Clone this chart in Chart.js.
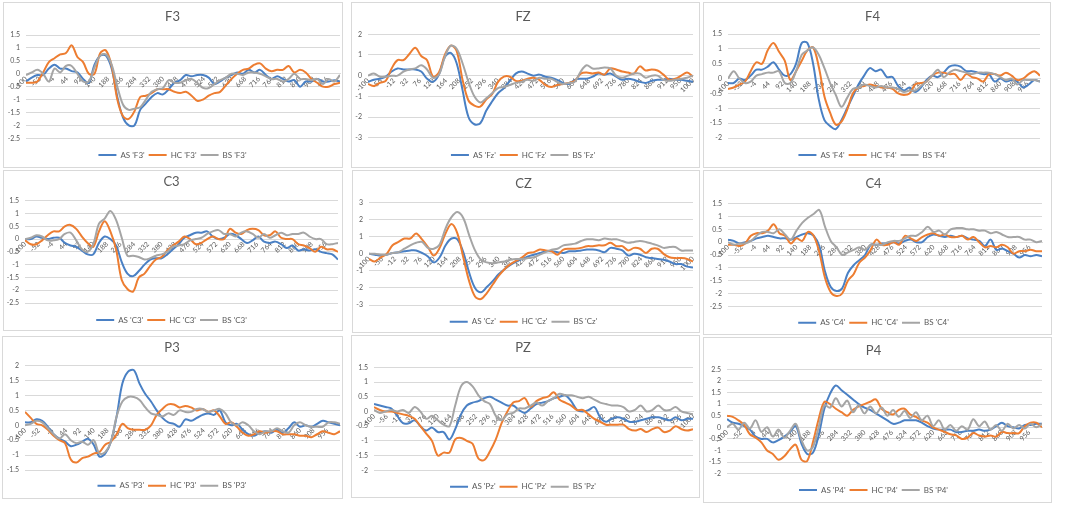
<!DOCTYPE html>
<html><head><meta charset="utf-8">
<script src="https://cdn.jsdelivr.net/npm/chart.js@4.4.1/dist/chart.umd.min.js"></script>
<style>
html,body{margin:0;padding:0;background:#fff;}
body{width:1084px;height:518px;position:relative;overflow:hidden;}
.panel{position:absolute;border:1px solid #d9d9d9;box-sizing:border-box;pointer-events:none;}
.wrap{position:absolute;}
</style></head><body>
<script>
// time axis (ms), sampled every 20 ms
const time = [-100,-80,-60,-40,-20,0,20,40,60,80,100,120,140,160,180,200,220,240,260,280,300,320,340,360,380,400,420,440,460,480,500,520,540,560,580,600,620,640,660,680,700,720,740,760,780,800,820,840,860,880,900,920,940,960,980,1000];
const ticksSide = [-100,-52,-4,44,92,140,188,236,284,332,380,428,476,524,572,620,668,716,764,812,860,908,956];
const ticksMid = [-100,-56,-12,32,76,120,164,208,252,296,340,384,428,472,516,560,604,648,692,736,780,824,868,912,956,1000];
const groups = ['AS','HC','BS'];

const F3_AS = [-0.3,-0.15,-0.05,-0.05,0.2,0.35,0.2,0.2,0.1,0.05, -0.2,-0.35,0.35,0.7,0.7,0.2,-0.9,-1.7,-2.0,-2.0, -1.4,-1.15,-0.9,-0.75,-0.8,-0.6,-0.35,-0.25,-0.05,-0.1, -0.05,-0.05,-0.15,-0.4,-0.3,-0.15,-0.05,0.05,0.0,0.15, 0.05,0.15,-0.05,-0.2,-0.1,-0.2,-0.3,-0.25,-0.5,-0.3, -0.3,-0.2,-0.3,-0.3,-0.25,-0.3];
const F3_HC = [-0.35,-0.35,-0.3,0.05,0.45,0.6,0.75,0.8,1.1,0.65, 0.45,0.0,0.0,0.8,0.9,0.3,-1.0,-1.65,-1.75,-1.45, -0.9,-0.85,-0.75,-0.6,-0.6,-0.6,-0.7,-0.75,-0.7,-0.85, -1.05,-1.0,-0.85,-0.75,-0.7,-0.45,-0.2,0.0,0.15,0.2, 0.35,0.4,0.2,0.1,0.15,0.15,0.3,0.05,0.15,0.05, -0.2,-0.35,-0.5,-0.5,-0.4,-0.35];
const F3_BS = [-0.05,0.05,0.15,0.0,-0.3,0.2,0.05,0.3,0.3,0.0, -0.3,-0.3,0.25,0.7,0.75,0.35,-0.5,-1.2,-1.4,-1.35, -1.3,-1.0,-0.7,-0.6,-0.55,-0.25,-0.35,-0.35,-0.25,-0.2, -0.35,-0.55,-0.55,-0.4,-0.25,-0.15,0.0,0.0,-0.05,0.05, 0.05,0.0,-0.1,-0.2,-0.2,-0.3,-0.2,0.0,-0.2,-0.2, -0.25,-0.2,-0.4,-0.2,-0.3,-0.05];

const FZ_AS = [-0.3,-0.2,-0.15,-0.05,0.2,0.35,0.3,0.3,0.3,0.2, -0.15,-0.3,0.05,0.9,1.1,0.6,-0.7,-2.0,-2.35,-2.3, -1.7,-1.25,-0.85,-0.6,-0.25,0.1,0.2,0.1,0.0,0.05, -0.05,-0.1,-0.2,-0.35,-0.4,-0.2,-0.15,-0.15,-0.05,0.1, 0.05,0.1,-0.05,-0.2,-0.15,-0.2,-0.3,-0.35,-0.25,-0.2, -0.2,-0.15,-0.2,-0.2,-0.25,-0.3];
const FZ_HC = [-0.4,-0.5,-0.35,-0.25,0.35,0.75,0.75,1.05,1.35,0.95, 0.75,-0.05,0.15,1.0,1.45,1.2,-0.2,-1.2,-1.45,-1.5, -1.15,-0.9,-0.3,-0.05,-0.05,-0.25,-0.25,-0.15,-0.1,-0.2, -0.45,-0.55,-0.45,-0.4,-0.35,-0.25,0.1,0.15,0.1,0.15, 0.05,0.35,0.3,0.2,0.15,0.1,0.45,0.25,0.3,0.25, 0.05,-0.2,-0.15,0.0,0.15,-0.05];
const FZ_BS = [0.0,0.1,-0.05,-0.05,0.0,0.0,0.2,0.3,0.35,0.5, 0.3,-0.1,0.05,0.9,1.45,1.3,0.6,-0.3,-1.0,-1.3, -1.1,-0.85,-0.6,-0.55,-0.45,-0.35,-0.3,-0.2,-0.25,-0.1, -0.15,-0.15,-0.3,-0.4,-0.35,-0.3,0.2,0.5,0.35,0.35, 0.4,0.35,0.0,-0.1,0.0,0.1,0.1,-0.1,0.0,0.0, -0.2,-0.25,-0.2,-0.15,-0.1,0.0];

const F4_AS = [-0.15,-0.15,0.0,-0.05,0.1,0.3,0.3,0.4,0.55,0.3, 0.1,0.15,0.5,1.2,1.2,0.5,-0.7,-1.4,-1.6,-1.7, -1.4,-1.0,-0.6,-0.2,0.1,0.35,0.25,0.3,0.05,0.05, -0.25,-0.4,-0.3,-0.45,-0.3,-0.05,0.1,0.05,0.2,0.4, 0.45,0.4,0.25,0.25,0.2,0.15,0.15,-0.1,0.0,-0.1, -0.05,-0.1,-0.3,-0.2,-0.05,-0.1];
const F4_HC = [-0.35,-0.3,-0.2,-0.1,0.25,0.55,0.5,0.95,1.2,0.9, 0.6,-0.05,0.25,0.6,0.95,1.05,0.4,-0.6,-1.15,-1.55, -1.45,-1.05,-0.5,-0.3,-0.25,-0.2,-0.25,-0.3,-0.3,-0.35, -0.5,-0.55,-0.5,-0.2,-0.15,-0.1,0.1,0.2,0.2,0.15, 0.15,-0.05,0.15,0.05,0.0,-0.1,0.15,0.15,0.1,0.2, 0.1,-0.05,0.0,0.15,0.25,0.1];
const F4_BS = [0.0,0.25,0.0,-0.15,-0.1,0.1,0.15,0.2,0.2,0.25, -0.15,-0.15,0.25,0.8,0.95,1.05,0.8,0.35,-0.15,-0.55, -0.95,-0.65,-0.35,-0.3,-0.2,-0.25,-0.3,-0.25,-0.3,-0.3, -0.35,-0.45,-0.4,-0.4,-0.25,-0.1,0.1,0.3,0.05,0.2, 0.3,0.25,0.2,0.15,0.2,0.2,0.2,0.15,0.05,-0.05, 0.0,-0.2,-0.05,-0.05,-0.05,-0.1];

const C3_AS = [0.0,0.0,0.1,0.05,0.0,0.05,0.05,-0.15,-0.25,-0.3, -0.45,-0.6,-0.6,-0.15,0.1,0.0,-0.25,-0.9,-1.35,-1.45, -1.25,-1.0,-0.8,-0.75,-0.75,-0.6,-0.4,-0.2,0.05,0.15, 0.25,0.25,0.3,0.1,0.0,0.05,0.2,0.15,0.0,-0.15, -0.05,0.1,-0.1,-0.15,-0.1,-0.2,-0.35,-0.25,-0.45,-0.4, -0.45,-0.4,-0.5,-0.55,-0.6,-0.8];
const C3_HC = [-0.05,-0.2,-0.2,-0.05,0.15,0.3,0.3,0.5,0.55,0.4, 0.1,-0.15,-0.3,0.3,0.7,0.3,-0.4,-1.6,-1.95,-2.05, -1.5,-1.35,-1.05,-0.8,-0.7,-0.45,-0.25,-0.1,0.1,0.0, -0.2,-0.15,0.0,0.1,0.0,0.0,0.4,0.25,0.2,0.35, 0.4,0.35,0.15,0.15,0.3,0.05,0.0,0.0,-0.2,-0.25, -0.35,-0.5,-0.3,-0.4,-0.4,-0.5];
const C3_BS = [0.0,0.05,0.15,0.1,-0.05,-0.05,0.0,0.2,0.25,-0.05, -0.4,-0.5,-0.2,0.6,0.8,1.1,0.75,0.05,-0.65,-0.65, -0.7,-0.8,-0.75,-0.65,-0.6,-0.5,-0.3,-0.25,-0.2,-0.05, 0.0,0.05,0.2,0.3,0.35,0.2,0.2,0.1,0.25,0.3, 0.2,0.05,0.2,0.05,0.15,0.25,0.15,0.2,0.2,0.25, 0.1,0.0,0.0,-0.2,-0.2,-0.15];

const CZ_AS = [0.0,-0.05,-0.1,-0.05,0.05,0.1,0.15,0.2,0.2,0.05, -0.15,-0.5,-0.2,0.5,0.9,0.85,0.1,-1.1,-2.0,-2.25, -1.95,-1.6,-1.2,-0.9,-0.65,-0.45,-0.3,-0.15,-0.05,0.05, 0.15,0.15,0.1,0.05,0.15,0.15,0.2,0.25,0.25,0.2, 0.1,0.35,0.3,0.2,-0.1,0.0,-0.05,-0.2,-0.25,-0.3, -0.35,-0.45,-0.6,-0.6,-0.75,-0.8];
const CZ_HC = [-0.3,-0.45,-0.2,0.0,0.5,0.7,0.9,0.9,1.2,0.85, 0.4,-0.1,0.35,1.2,1.75,1.2,-0.2,-1.6,-2.5,-2.65, -2.3,-1.8,-1.3,-0.9,-0.6,-0.4,-0.2,0.05,0.1,0.25, 0.2,0.15,-0.05,0.25,0.3,0.3,0.35,0.45,0.45,0.5, 0.5,0.65,0.45,0.45,0.2,0.35,0.3,0.05,0.3,0.3, 0.0,-0.2,-0.25,-0.25,-0.3,-0.45];
const CZ_BS = [0.0,0.0,-0.05,-0.05,0.05,0.1,0.3,0.5,0.65,0.7, 0.35,0.3,0.55,1.5,2.15,2.45,2.1,1.1,0.2,-0.35, -0.5,-0.55,-0.5,-0.45,-0.35,-0.3,-0.3,-0.25,-0.2,-0.05, 0.1,0.25,0.3,0.5,0.55,0.6,0.75,0.85,0.85,0.8, 0.9,0.85,0.85,0.75,0.65,0.7,0.75,0.7,0.6,0.5, 0.35,0.4,0.4,0.2,0.2,0.2];

const C4_AS = [0.1,0.05,-0.05,0.0,0.05,0.15,0.2,0.25,0.2,0.15, 0.15,0.1,0.2,0.3,0.35,0.25,-0.15,-1.15,-1.75,-1.9, -1.8,-1.2,-0.9,-0.7,-0.5,-0.1,-0.1,-0.05,-0.05,0.0, -0.05,0.05,0.1,0.0,0.0,0.2,0.3,0.25,0.2,0.25, 0.2,0.25,0.15,0.1,0.05,-0.15,0.1,-0.3,-0.25,-0.35, -0.45,-0.6,-0.5,-0.55,-0.5,-0.55];
const C4_HC = [-0.1,-0.1,-0.15,-0.05,0.25,0.35,0.35,0.45,0.7,0.35, 0.25,-0.05,0.15,0.05,0.4,0.25,-0.4,-1.4,-1.95,-2.1, -2.0,-1.5,-1.25,-0.8,-0.6,-0.3,0.1,-0.1,-0.1,0.0, -0.1,0.25,0.15,0.05,0.2,0.3,0.35,0.25,0.3,0.2, 0.2,0.25,0.1,0.2,0.0,-0.2,-0.15,-0.2,-0.1,-0.2, -0.45,-0.35,-0.35,-0.3,-0.35,-0.35];
const C4_BS = [0.0,-0.1,-0.05,-0.05,0.05,0.25,0.4,0.4,0.35,0.5, 0.3,0.1,0.45,0.75,0.95,1.1,1.25,0.6,0.05,-0.2, -0.5,-0.4,-0.3,-0.2,-0.3,-0.1,-0.1,-0.1,0.0,0.05, 0.05,0.15,0.25,0.25,0.4,0.6,0.4,0.45,0.3,0.5, 0.55,0.55,0.5,0.5,0.45,0.45,0.35,0.4,0.3,0.2, 0.2,0.2,0.1,0.1,0.0,0.05];

const P3_AS = [0.1,0.1,0.2,0.15,-0.05,-0.3,-0.45,-0.55,-0.7,-0.65, -0.55,-0.45,-0.65,-1.05,-0.95,-0.55,0.3,1.4,1.8,1.85, 1.4,1.05,0.8,0.5,0.25,0.1,0.05,-0.05,0.2,0.15, 0.25,0.35,0.4,0.35,0.5,0.1,0.0,0.05,-0.15,-0.3, -0.35,-0.25,-0.2,-0.25,-0.15,-0.25,-0.1,0.1,-0.05,0.0, -0.05,0.05,0.15,0.1,0.05,0.0];
const P3_HC = [0.45,0.25,0.05,0.0,-0.15,-0.35,-0.5,-0.6,-1.15,-1.25, -1.1,-1.05,-0.95,-0.9,-0.65,-0.55,-0.3,0.05,-0.1,-0.15, -0.15,-0.15,0.0,0.35,0.55,0.7,0.7,0.6,0.65,0.6, 0.5,0.55,0.45,0.5,0.3,0.05,0.1,-0.05,-0.25,-0.35, -0.3,-0.2,-0.25,-0.2,-0.2,-0.3,-0.3,-0.3,-0.35,-0.35, -0.4,-0.3,-0.2,-0.25,-0.3,-0.2];
const P3_BS = [0.0,0.05,0.15,0.1,-0.1,-0.3,-0.45,-0.3,-0.5,-0.6, -0.55,-0.65,-0.5,-0.95,-0.9,-0.55,0.3,0.8,0.95,0.95, 0.85,0.6,0.4,0.35,0.3,0.4,0.35,0.5,0.45,0.45, 0.55,0.55,0.45,0.5,0.55,0.4,0.1,0.0,0.1,0.0, -0.2,-0.3,-0.2,-0.2,-0.1,-0.2,-0.25,0.0,0.1,0.0, -0.05,-0.05,-0.05,0.1,0.1,0.05];

const PZ_AS = [0.25,0.2,0.15,0.1,-0.15,-0.4,-0.4,-0.3,-0.5,-0.65, -0.55,-0.7,-0.7,-0.95,-0.6,-0.1,0.2,0.3,0.35,0.45, 0.5,0.4,0.3,0.2,0.2,0.05,-0.05,0.1,0.25,0.3, 0.35,0.45,0.5,0.55,0.35,0.05,0.0,0.05,0.15,-0.2, -0.35,-0.25,-0.2,-0.25,-0.35,-0.35,-0.3,-0.25,-0.2,-0.2, -0.25,-0.3,-0.2,-0.3,-0.25,-0.25];
const PZ_HC = [0.15,0.05,0.0,0.0,-0.05,-0.1,-0.15,-0.25,-0.5,-0.75, -1.0,-1.5,-1.4,-1.4,-0.95,-0.9,-1.0,-1.1,-1.6,-1.65, -1.35,-0.95,-0.4,0.0,0.3,0.35,0.45,0.15,0.35,0.45, 0.5,0.65,0.4,0.3,0.2,0.05,0.05,-0.1,-0.25,-0.35, -0.45,-0.45,-0.45,-0.45,-0.6,-0.65,-0.6,-0.7,-0.6,-0.55, -0.7,-0.65,-0.5,-0.6,-0.65,-0.6];
const PZ_BS = [0.05,-0.05,0.0,0.05,0.0,0.05,-0.05,0.15,0.0,-0.25, -0.15,-0.3,-0.45,-0.5,0.2,0.85,1.0,0.85,0.55,0.35, 0.25,-0.15,-0.3,-0.1,-0.05,0.1,0.1,0.2,0.3,0.2, 0.35,0.45,0.6,0.55,0.55,0.5,0.45,0.5,0.4,0.3, 0.25,0.2,0.2,0.15,0.0,0.05,0.2,0.0,0.05,0.2, 0.05,0.05,0.15,0.0,-0.05,-0.1];

const P4_AS = [0.35,0.2,0.15,0.05,-0.1,-0.4,-0.5,-0.5,-0.65,-0.55, -0.4,-0.2,0.05,-0.7,-1.15,-1.1,-0.35,0.8,1.45,1.8, 1.6,1.4,1.2,1.0,0.85,0.75,0.6,0.45,0.3,0.15, 0.2,0.3,0.3,0.3,0.2,0.05,-0.05,-0.1,-0.1,-0.1, -0.2,-0.2,-0.15,-0.15,-0.1,-0.15,-0.1,0.05,0.2,0.05, 0.0,-0.05,0.1,0.1,0.15,0.15];
const P4_HC = [0.5,0.45,0.3,0.1,-0.3,-0.45,-0.65,-1.0,-1.15,-1.4, -1.25,-0.95,-0.75,-1.4,-1.45,-0.65,0.35,1.1,1.0,0.8, 0.65,0.5,0.75,0.9,1.0,1.1,1.2,0.8,0.65,0.55, 0.75,0.8,0.55,0.45,0.3,0.2,0.0,-0.1,-0.2,-0.3, -0.35,-0.5,-0.45,-0.25,-0.35,-0.4,-0.35,-0.4,-0.2,-0.25, -0.25,-0.25,0.05,0.2,0.2,0.0];
const P4_BS = [0.0,0.15,-0.1,0.2,-0.05,0.3,-0.2,0.0,-0.4,-0.1, -0.45,-0.15,0.15,-0.55,-1.0,-0.85,0.0,0.95,0.85,1.25, 0.9,1.15,0.65,0.95,0.6,0.9,0.6,0.85,0.5,0.75, 0.45,0.7,0.4,0.65,0.3,0.5,0.05,0.3,-0.1,0.1, -0.15,0.05,-0.1,0.35,0.05,0.25,-0.1,0.1,-0.15,0.15, -0.05,0.1,-0.05,0.15,0.0,0.15];

const COLORS = ['#4A80C4','#ED7D31','#A5A5A5'];
const FONT = "Lato, 'Open Sans', sans-serif";
const TXT = '#595959';
const GRID = '#d9d9d9';

// layout: box [left, top, width, height], plot [left, right, top, bottom] in page pixels
const panels = [
  {title:'F3', tag:'F3', ticks:ticksSide, y:[-2.5,1.5,0.5], series:[F3_AS,F3_HC,F3_BS], box:[3,2,340,166],   plot:[26,340,35,138.3],    titleY:16.7, legendY:155},
  {title:'FZ', tag:'Fz', ticks:ticksMid,  y:[-3,2,1],       series:[FZ_AS,FZ_HC,FZ_BS], box:[351,2,349,166], plot:[368,693,34.3,137.7], titleY:16.7, legendY:155},
  {title:'F4', tag:'F4', ticks:ticksSide, y:[-2,1.5,0.5],   series:[F4_AS,F4_HC,F4_BS], box:[703,2,348,166], plot:[728,1040,34,138],    titleY:16.7, legendY:155},
  {title:'C3', tag:'C3', ticks:ticksSide, y:[-2.5,1.5,0.5], series:[C3_AS,C3_HC,C3_BS], box:[3,170,340,161], plot:[25,338,200.7,303],   titleY:181.7, legendY:320},
  {title:'CZ', tag:'Cz', ticks:ticksMid,  y:[-3,3,1],       series:[CZ_AS,CZ_HC,CZ_BS], box:[352,170,348,163], plot:[369,693,202.7,305], titleY:184, legendY:321.7},
  {title:'C4', tag:'C4', ticks:ticksSide, y:[-2.5,1.5,0.5], series:[C4_AS,C4_HC,C4_BS], box:[703,170,349,165], plot:[728,1042,203.7,306.3], titleY:184, legendY:322.7},
  {title:'P3', tag:'P3', ticks:ticksSide, y:[-1.5,2,0.5],   series:[P3_AS,P3_HC,P3_BS], box:[2,336,341,163], plot:[25,340,365.7,470],   titleY:348, legendY:485.7},
  {title:'PZ', tag:'Pz', ticks:ticksMid,  y:[-2,1.5,0.5],   series:[PZ_AS,PZ_HC,PZ_BS], box:[351,335,349,163], plot:[374,693,367.3,470.3], titleY:348, legendY:486.7},
  {title:'P4', tag:'P4', ticks:ticksSide, y:[-2,2.5,0.5],   series:[P4_AS,P4_HC,P4_BS], box:[703,337,349,166], plot:[727,1042,369.3,473.7], titleY:351, legendY:490}
];

panels.forEach(p => {
  const [bx, by, bw, bh] = p.box;
  const W = bw, H = bh + 14;
  const rL = p.plot[0] - bx, rR = p.plot[1] - bx, rT = p.plot[2] - by, rB = p.plot[3] - by;
  const ty = p.titleY - by, ly = p.legendY - by;
  const padL = 2, padR = W - rR;
  const yW = rL - padL;
  const tFs = 13;
  const tPadTop = ty - tFs / 2;
  const tPadBot = rT - (ty + tFs / 2);
  const lFs = 8, lPad = 4;
  const legTop = ly - (lPad + lFs / 2);
  const legH = lFs + lPad + 10;
  const padB = H - (legTop + legH);
  const gap = legTop - rB;

  const wrap = document.createElement('div');
  wrap.className = 'wrap';
  wrap.style.left = bx + 'px'; wrap.style.top = by + 'px';
  wrap.style.width = W + 'px'; wrap.style.height = H + 'px';
  const cv = document.createElement('canvas');
  cv.width = W; cv.height = H;
  cv.style.width = W + 'px'; cv.style.height = H + 'px';
  wrap.appendChild(cv);
  document.body.appendChild(wrap);

  const border = document.createElement('div');
  border.className = 'panel';
  border.style.left = bx + 'px'; border.style.top = by + 'px';
  border.style.width = bw + 'px'; border.style.height = bh + 'px';
  document.body.appendChild(border);

  const tickArr = p.ticks;
  new Chart(cv, {
    type: 'line',
    data: {
      datasets: groups.map((g, i) => ({
        label: g + " '" + p.tag + "'",
        data: p.series[i].map((v, j) => ({x: time[j], y: v})),
        borderColor: COLORS[i],
        backgroundColor: COLORS[i],
        borderWidth: 2,
        pointRadius: 0,
        tension: 0.35,
        fill: false,
        order: 2 - i
      }))
    },
    options: {
      responsive: false,
      animation: false,
      events: [],
      layout: {padding: {left: padL, right: padR, top: 0, bottom: padB}},
      plugins: {
        tooltip: {enabled: false},
        title: {
          display: true, text: p.title, color: TXT,
          font: {family: FONT, size: tFs, weight: 'normal', lineHeight: 1},
          padding: {top: tPadTop, bottom: tPadBot}
        },
        legend: {
          display: true, position: 'bottom',
          labels: {
            usePointStyle: true, pointStyle: 'line', pointStyleWidth: 18,
            padding: lPad, color: TXT,
            font: {family: FONT, size: lFs, lineHeight: 1},
            sort: (a, b) => a.datasetIndex - b.datasetIndex
          }
        }
      },
      scales: {
        x: {
          type: 'linear', min: -100, max: 1000,
          position: {y: 0},
          grid: {display: false, drawTicks: false},
          border: {display: true, color: GRID, width: 1},
          afterBuildTicks: s => { s.ticks = tickArr.map(v => ({value: v})); },
          ticks: {
            autoSkip: false, minRotation: 45, maxRotation: 45, padding: 1,
            color: TXT, font: {family: FONT, size: 7},
            callback: v => String(v)
          }
        },
        y: {
          type: 'linear', position: 'left',
          min: p.y[0], max: p.y[1],
          grid: {color: GRID, lineWidth: 1, drawTicks: false},
          border: {display: false},
          afterFit: s => { s.width = yW; },
          ticks: {
            stepSize: p.y[2], padding: 6, color: TXT,
            font: {family: FONT, size: 7},
            callback: v => String(Math.round(v * 100) / 100)
          }
        },
        sp: {
          type: 'linear', position: 'bottom', display: true,
          ticks: {display: false},
          grid: {display: false, drawTicks: false},
          border: {display: false},
          afterFit: s => { s.height = gap; }
        }
      }
    }
  });
});
</script>
</body></html>
